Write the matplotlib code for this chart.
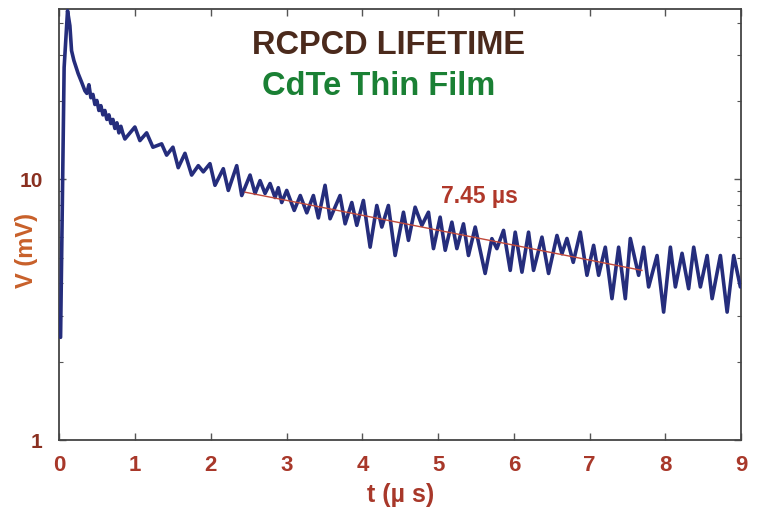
import numpy as np
import matplotlib
matplotlib.use("Agg")
import matplotlib.pyplot as plt
from matplotlib.ticker import LogLocator, NullFormatter, FixedLocator

plt.rcParams['font.family'] = ['Liberation Sans', 'DejaVu Sans']

# decay trace (t in us, V in mV)
t_us = [0.016, 0.063, 0.108, 0.139, 0.161, 0.192, 0.248, 0.297, 0.337, 0.363,
        0.390, 0.416, 0.443, 0.469, 0.495, 0.522, 0.548, 0.575, 0.601, 0.627,
        0.654, 0.680, 0.707, 0.733, 0.760, 0.786, 0.812, 0.839, 0.865, 0.997,
        1.063, 1.152, 1.235, 1.350, 1.416, 1.499, 1.569, 1.658, 1.746, 1.834,
        1.900, 1.988, 2.054, 2.164, 2.230, 2.341, 2.407, 2.517, 2.583, 2.649,
        2.715, 2.781, 2.847, 2.890, 2.935, 3.001, 3.100, 3.180, 3.266, 3.353,
        3.419, 3.507, 3.573, 3.705, 3.772, 3.860, 3.926, 4.013, 4.102, 4.190,
        4.256, 4.343, 4.432, 4.542, 4.608, 4.696, 4.785, 4.872, 4.938, 5.026,
        5.093, 5.181, 5.247, 5.334, 5.400, 5.489, 5.620, 5.709, 5.775, 5.863,
        5.951, 6.017, 6.106, 6.193, 6.259, 6.370, 6.457, 6.568, 6.634, 6.700,
        6.783, 6.876, 6.964, 7.052, 7.118, 7.206, 7.294, 7.382, 7.470, 7.536,
        7.646, 7.712, 7.778, 7.889, 7.976, 8.065, 8.131, 8.219, 8.306, 8.373,
        8.461, 8.550, 8.616, 8.725, 8.814, 8.901, 8.989]
v_mv = [2.48, 26.9, 44.4, 38.9, 31.2, 28.6, 25.5, 23.5, 21.9, 21.4,
        23.1, 20.6, 21.2, 19.4, 20.1, 18.4, 19.2, 17.7, 18.4, 17.0,
        17.7, 16.4, 17.0, 15.7, 16.5, 15.1, 16.0, 15.0, 14.3, 15.9,
        14.1, 15.1, 13.3, 13.7, 12.4, 13.3, 11.1, 12.6, 10.4, 11.3,
        10.7, 11.5, 9.5, 11.0, 9.08, 11.3, 8.68, 10.4, 8.84, 9.9,
        8.84, 9.65, 8.53, 9.3, 8.16, 9.08, 7.61, 8.68, 7.45, 8.68,
        7.12, 9.5, 7.07, 8.68, 6.76, 8.16, 6.67, 8.31, 5.50, 7.95,
        6.57, 7.95, 5.11, 7.49, 5.84, 7.83, 6.67, 7.49, 5.43, 7.17,
        5.35, 6.86, 5.43, 6.76, 5.11, 6.57, 4.36, 5.93, 5.43, 6.38,
        4.48, 6.28, 4.41, 6.28, 4.48, 6.01, 4.36, 6.10, 5.19, 5.94,
        4.81, 6.28, 4.29, 5.59, 4.29, 5.50, 3.49, 5.50, 3.49, 5.94,
        4.29, 5.50, 3.87, 5.11, 3.10, 5.50, 3.87, 5.21, 3.81, 5.50,
        3.87, 5.11, 3.49, 5.11, 3.10, 5.11, 3.87]

# exponential fit (straight on log axis), tau = 7.45 us
fit_t = [2.45, 7.69]
fit_v = [8.94, 4.48]

x_ticks = list(range(10))

fig = plt.figure(figsize=(7.61, 5.13), dpi=100)
ax = fig.add_axes([0.078, 0.142, 0.896, 0.840])

ax.plot(t_us, v_mv, color='#252d7c', lw=2.6, solid_joinstyle='round',
        solid_capstyle='round', zorder=3)
ax.plot(fit_t, fit_v, color='#c0483a', lw=1.0, zorder=4)

ax.set_yscale('log')
ax.set_xlim(0, 9)
ax.set_ylim(1, 45)

ax.xaxis.set_major_locator(FixedLocator(x_ticks))
ax.yaxis.set_minor_locator(LogLocator(base=10, subs=np.arange(2, 10), numticks=20))
ax.yaxis.set_minor_formatter(NullFormatter())
ax.set_yticks([1, 10])
ax.set_yticklabels(['1', '10'])

ax.tick_params(which='both', direction='in', top=True, right=True, color='#555555')
ax.tick_params(which='major', length=5, width=1)
ax.tick_params(which='minor', length=3, width=0.8)
ax.tick_params(axis='x', which='major', pad=11, labelsize=16, labelcolor='#a8382a')
ax.tick_params(axis='y', which='major', pad=12, labelsize=15, labelcolor='#8a3020')
for lbl in ax.get_xticklabels() + ax.get_yticklabels():
    lbl.set_fontweight('bold')

for sp in ax.spines.values():
    sp.set_color('#444444')
    sp.set_linewidth(1.3)

ax.set_xlabel('t (µ s)', fontsize=18, fontweight='bold', color='#a8382a', labelpad=5)
fig.text(27 / 761, 1 - 250 / 513, 'V (mV)', rotation=90, ha='center', va='center',
         fontsize=17, fontweight='bold', color='#c8602a')

fig.text(389 / 761, 1 - 46 / 513, 'RCPCD LIFETIME', ha='center', va='center',
         fontsize=23.5, fontweight='bold', color='#4b2a1c')
fig.text(379 / 761, 1 - 87 / 513, 'CdTe Thin Film', ha='center', va='center',
         fontsize=23.5, fontweight='bold', color='#1a8034')
ax.text(5.55, 7.75, '7.45 µs', ha='center', va='bottom', fontsize=16.5,
        fontweight='bold', color='#b0382a')

fig.savefig('out.png', dpi=100)
